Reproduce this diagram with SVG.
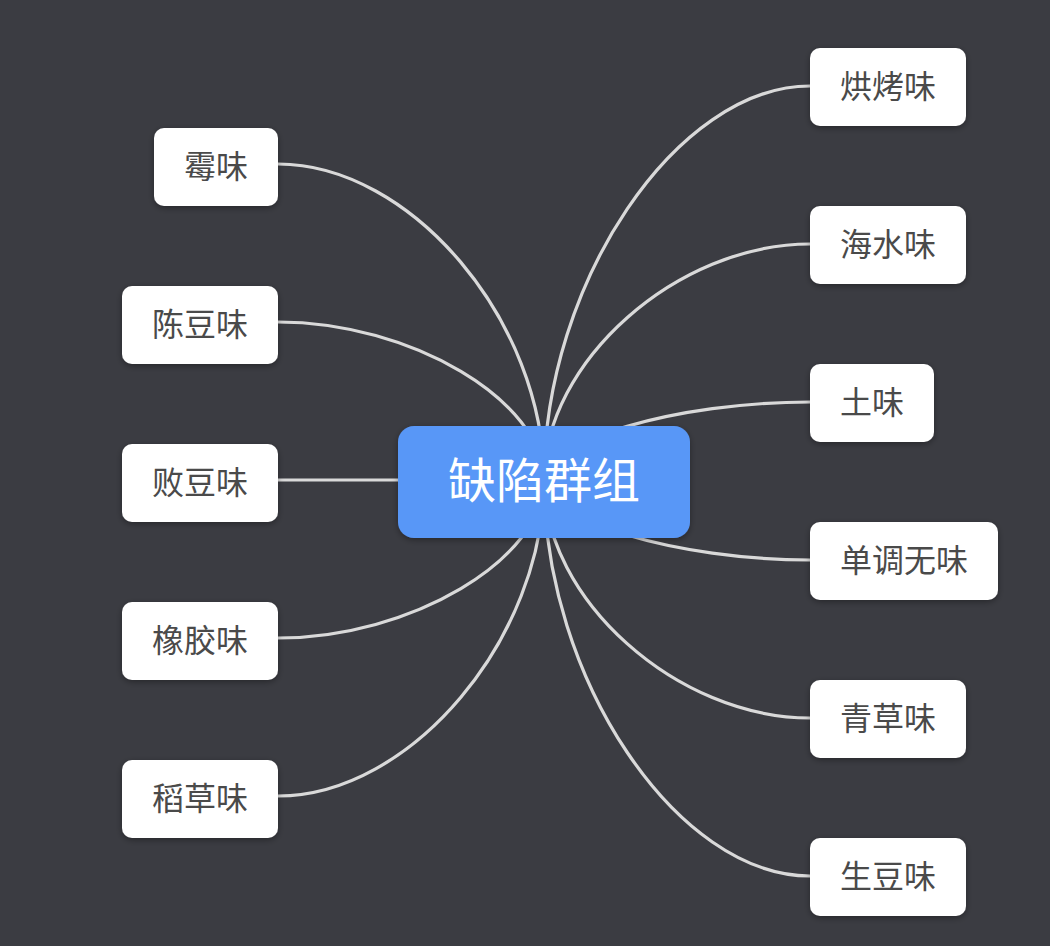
<svg xmlns="http://www.w3.org/2000/svg" width="1050" height="946" viewBox="0 0 1050 946">
  <defs>
    <filter id="sh" x="-20%" y="-20%" width="140%" height="150%">
      <feDropShadow dx="0" dy="2" stdDeviation="3" flood-color="#000" flood-opacity="0.35"/>
    </filter>
    <style>
      .bg { fill: #3b3c42; }
      .link { fill: none; stroke: #d9d9d9; stroke-width: 3.2; stroke-linecap: round; }
      .box { fill: #ffffff; filter: url(#sh); }
      .root { fill: #5897f7; filter: url(#sh); }
      .t { font-family: "Noto Sans CJK SC", "Noto Sans", sans-serif; font-size: 32px; fill: #4a4a4a; text-anchor: middle; dominant-baseline: central; }
      .rt { font-family: "Noto Sans CJK SC", "Noto Sans", sans-serif; font-size: 48px; fill: #ffffff; text-anchor: middle; dominant-baseline: central; }
    </style>
  </defs>
  <rect class="bg" x="0" y="0" width="1050" height="946"/>

  <g id="connectors">
    <path class="link" d="M278 164 C411 164 544 321 544 480"/>
    <path class="link" d="M278 322 C411 322 544 401 544 480"/>
    <path class="link" d="M278 480 L544 480"/>
    <path class="link" d="M278 638 C411 638 544 559 544 480"/>
    <path class="link" d="M278 796 C411 796 544 638 544 480"/>
    <path class="link" d="M810 86 C677 86 544 283 544 480"/>
    <path class="link" d="M810 244 C677 244 544 362 544 480"/>
    <path class="link" d="M810 402 C677 402 544 441 544 480"/>
    <path class="link" d="M810 560 C677 560 544 520 544 480"/>
    <path class="link" d="M810 718 C677 718 544 599 544 480"/>
    <path class="link" d="M810 876 C677 876 544 678 544 480"/>
  </g>

  <g id="root">
    <rect class="root" x="398" y="426" width="292" height="112" rx="16"/>
    <text class="rt" x="544" y="477">缺陷群组</text>
  </g>

  <g id="n-mei">
    <rect class="box" x="154" y="128" width="124" height="78" rx="10"/>
    <text class="t" x="216" y="164">霉味</text>
  </g>
  <g id="n-chendou">
    <rect class="box" x="122" y="286" width="156" height="78" rx="10"/>
    <text class="t" x="200" y="322">陈豆味</text>
  </g>
  <g id="n-baidou">
    <rect class="box" x="122" y="444" width="156" height="78" rx="10"/>
    <text class="t" x="200" y="480">败豆味</text>
  </g>
  <g id="n-xiangjiao">
    <rect class="box" x="122" y="602" width="156" height="78" rx="10"/>
    <text class="t" x="200" y="638">橡胶味</text>
  </g>
  <g id="n-daocao">
    <rect class="box" x="122" y="760" width="156" height="78" rx="10"/>
    <text class="t" x="200" y="796">稻草味</text>
  </g>

  <g id="n-hongkao">
    <rect class="box" x="810" y="48" width="156" height="78" rx="10"/>
    <text class="t" x="888" y="84">烘烤味</text>
  </g>
  <g id="n-haishui">
    <rect class="box" x="810" y="206" width="156" height="78" rx="10"/>
    <text class="t" x="888" y="242">海水味</text>
  </g>
  <g id="n-tu">
    <rect class="box" x="810" y="364" width="124" height="78" rx="10"/>
    <text class="t" x="872" y="400">土味</text>
  </g>
  <g id="n-dandiao">
    <rect class="box" x="810" y="522" width="188" height="78" rx="10"/>
    <text class="t" x="904" y="558">单调无味</text>
  </g>
  <g id="n-qingcao">
    <rect class="box" x="810" y="680" width="156" height="78" rx="10"/>
    <text class="t" x="888" y="716">青草味</text>
  </g>
  <g id="n-shengdou">
    <rect class="box" x="810" y="838" width="156" height="78" rx="10"/>
    <text class="t" x="888" y="874">生豆味</text>
  </g>
</svg>
